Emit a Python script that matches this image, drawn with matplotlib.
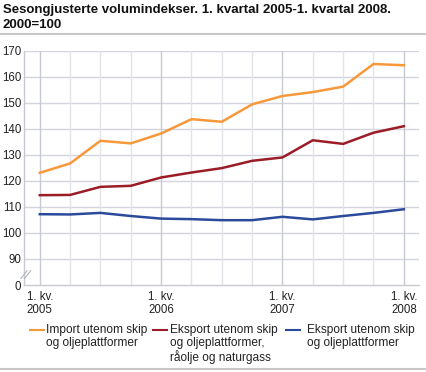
import matplotlib
matplotlib.use('Agg')
import matplotlib.pyplot as plt
from matplotlib.lines import Line2D
import numpy as np

plt.rcParams['font.family'] = ['Liberation Sans', 'DejaVu Sans']

# kvartal 1. kv. 2005 - 1. kv. 2008
kvartal = list(range(13))
x_labels = ['1. kv.\n2005', '1. kv.\n2006', '1. kv.\n2007', '1. kv.\n2008']
import_vals = [123.1, 126.7, 135.4, 134.4, 138.2, 143.7, 142.7, 149.4, 152.6, 154.1, 156.2, 164.9, 164.4]
eksport_olje = [114.5, 114.6, 117.7, 118.1, 121.3, 123.2, 124.9, 127.7, 129.0, 135.6, 134.2, 138.5, 141.0]
eksport_vals = [107.2, 107.1, 107.7, 106.5, 105.5, 105.3, 104.9, 104.9, 106.2, 105.2, 106.5, 107.7, 109.1]
serie_navn = ['Import utenom skip\nog oljeplattformer',
              'Eksport utenom skip\nog oljeplattformer,\nråolje og naturgass',
              'Eksport utenom skip\nog oljeplattformer']
farger = ['#F7983B', '#9B1C26', '#2B4A9C']

fig = plt.figure(figsize=(4.27, 3.72), dpi=100)
ax = fig.add_axes([24/427, 87/372, 395/427, 234.3/372])

# y-akse med brudd: 80 vises som 0
ax.set_ylim(80, 170)
ax.set_xlim(-0.52, 12.5)
yt = [80, 90, 100, 110, 120, 130, 140, 150, 160, 170]
ax.set_yticks(yt)
ax.set_yticklabels(['0'] + [str(v) for v in yt[1:]])
ax.set_xticks([0, 4, 8, 12])
ax.set_xticklabels(x_labels)
ax.set_xticks(kvartal, minor=True)

for v in yt[1:]:
    ax.axhline(v, color='#D3D5DD', lw=1, zorder=0)
for k in kvartal:
    c = '#C8CAD3' if k % 4 == 0 else '#E3E4EA'
    ax.axvline(k, color=c, lw=1, zorder=0)

for vals, col in zip([import_vals, eksport_olje, eksport_vals], farger):
    ax.plot(kvartal, vals, color=col, lw=1.8, zorder=3)

for s in ['top', 'right']:
    ax.spines[s].set_visible(False)
for s in ['left', 'bottom']:
    ax.spines[s].set_color('#C8CAD3')
    ax.spines[s].set_linewidth(1)
ax.tick_params(axis='both', which='both', length=0, labelsize=8.3, colors='#222222')
ax.tick_params(axis='y', pad=2)
ax.tick_params(axis='x', pad=4)
for lab in ax.get_xticklabels():
    lab.set_horizontalalignment('center')
    lab.set_linespacing(1.2)

# bruddmarkering
for dx in [0, 0.12]:
    ax.plot([-0.62 + dx, -0.42 + dx], [82.5, 85.5], color='#B0B2BA', lw=0.8,
            clip_on=False, zorder=4)

# tittel
fig.text(3/427, 1 - 4/372, 'Sesongjusterte volumindekser. 1. kvartal 2005-1. kvartal 2008.\n2000=100',
         fontsize=9.5, fontweight='bold', va='top', ha='left', linespacing=1.3, color='#111111')
fig.add_artist(Line2D([0, 1], [1 - 34/372, 1 - 34/372], color='#C8C8C8', lw=1.5))
fig.add_artist(Line2D([0, 1], [1 - 369/372, 1 - 369/372], color='#C8C8C8', lw=1.5))

# tegnforklaring
leg_x = [30, 153, 286]
txt_x = [46, 170, 307]
for lx, tx, col, navn in zip(leg_x, txt_x, farger, serie_navn):
    fig.add_artist(Line2D([lx/427, (lx + 14)/427], [1 - 330/372] * 2, color=col, lw=1.5))
    fig.text(tx/427, 1 - 324/372, navn, fontsize=8.6, va='top', ha='left',
             linespacing=1.08, color='#222222')

fig.savefig('out.png', dpi=100)
